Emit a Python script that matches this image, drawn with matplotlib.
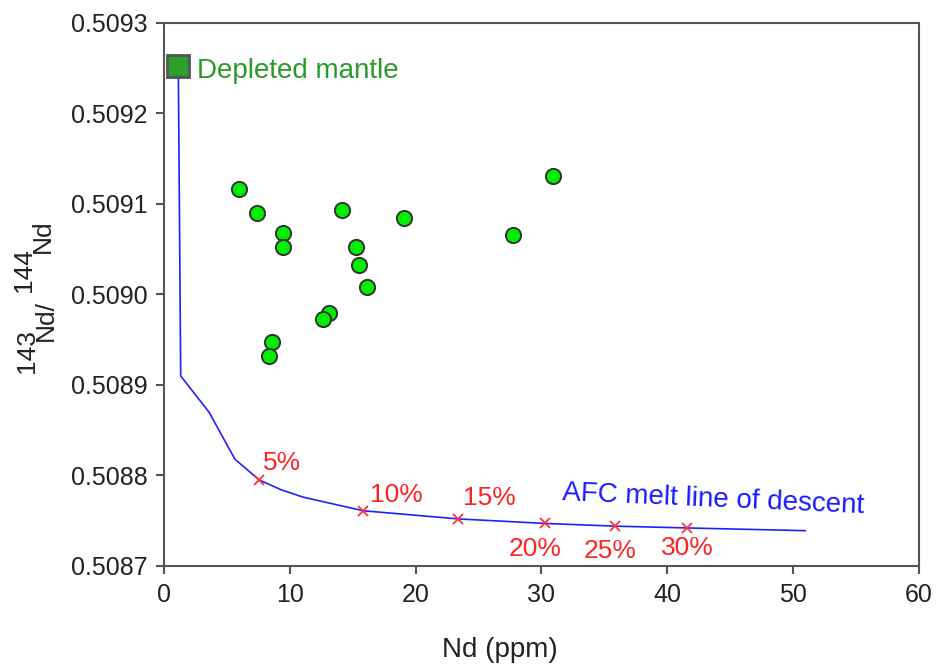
import numpy as np
import matplotlib
matplotlib.use("Agg")
import matplotlib.pyplot as plt

plt.rcParams["font.family"] = ["Liberation Sans", "DejaVu Sans"]

# Sample data (Nd ppm vs 143Nd/144Nd)
nd_ppm = [5.96, 7.37, 9.48, 9.48, 14.12, 19.07, 30.94, 27.76,
          15.26, 15.47, 16.11, 13.14, 12.61, 8.56, 8.34]
nd_ratio = [0.509117, 0.509090, 0.509068, 0.509052, 0.509093, 0.509084,
            0.509131, 0.509066, 0.509052, 0.509033, 0.509008, 0.508980,
            0.508973, 0.508948, 0.508932]

# Depleted mantle end member
dm_nd = 1.14
dm_ratio = 0.509252

# AFC melt line of descent
afc_nd = [1.14, 1.33, 3.58, 5.64, 7.57, 9.35, 11.07, 15.84, 23.39,
          30.28, 35.84, 41.59, 50.97]
afc_ratio = [0.509252, 0.508910, 0.508870, 0.508818, 0.508795, 0.508784,
             0.508776, 0.508761, 0.508752, 0.508747, 0.508744, 0.508742,
             0.508739]

# Fractionation marks
pct_labels = ["5%", "10%", "15%", "20%", "25%", "30%"]
pct_nd = [7.57, 15.84, 23.39, 30.28, 35.84, 41.59]
pct_ratio = [0.508795, 0.508761, 0.508752, 0.508747, 0.508744, 0.508742]

fig = plt.figure(figsize=(9.38, 6.66), dpi=100)
ax = fig.add_axes([0.1748, 0.1502, 0.8049, 0.8153])

ax.plot(afc_nd, afc_ratio, color="#2020ff", lw=1.2, zorder=2)
ax.plot(pct_nd, pct_ratio, "x", color="#ff3333", ms=7, mew=1.3, zorder=3)

# label offsets in pixels (dx, dy up) relative to each cross
offsets = [(4, 17, "left"), (7, 16, "left"), (5, 21, "left"),
           (-10, -26, "center"), (-5, -25, "center"), (0, -20, "center")]
for lab, x, y, (dx, dy, ha) in zip(pct_labels, pct_nd, pct_ratio, offsets):
    ax.annotate(lab, (x, y), xytext=(dx, dy), textcoords="offset pixels",
                ha=ha, va="center", color="#ff2222", fontsize=19)

ax.scatter(nd_ppm, nd_ratio, s=120, color="#00ee00", edgecolor="#333333",
           linewidth=1.4, zorder=4)

ax.plot(dm_nd, dm_ratio, "s", ms=16, color="#2ca02c", mec="#555555",
        mew=2, zorder=5)
ax.annotate("Depleted mantle", (dm_nd, dm_ratio), xytext=(19, -5),
            textcoords="offset pixels", ha="left", va="center",
            color="#2a9a2a", fontsize=20)

ax.text(43.63, 0.5087735, "AFC melt line of descent", color="#1a1aff",
        fontsize=20, rotation=-2.5, ha="center", va="center")

ax.set_xlim(0, 60)
ax.set_ylim(0.5087, 0.5093)
ax.set_xticks(np.arange(0, 61, 10))
ax.set_yticks(np.arange(0.5087, 0.50931, 0.0001))
ax.yaxis.set_major_formatter(plt.FormatStrFormatter("%.4f"))

for sp in ax.spines.values():
    sp.set_color("#555555")
    sp.set_linewidth(1.5)
ax.tick_params(direction="out", length=6, width=1.5, color="#555555",
               labelsize=18, labelcolor="#222222", pad=6)

ax.set_xlabel("Nd (ppm)", fontsize=20, color="#222222")
ax.xaxis.set_label_coords(0.445, -0.13)

# y label built from pieces so the mass numbers stay full size
ylab_parts = [("143", 27, 351), ("Nd/", 46, 320), ("144", 24, 270), ("Nd", 43, 236)]
W, H = 938, 666
for txt, px, py in ylab_parts:
    fig.text(px / W, 1 - py / H, txt, rotation=90, ha="center", va="center",
             fontsize=19, color="#222222")

fig.savefig("out.png", dpi=100)
